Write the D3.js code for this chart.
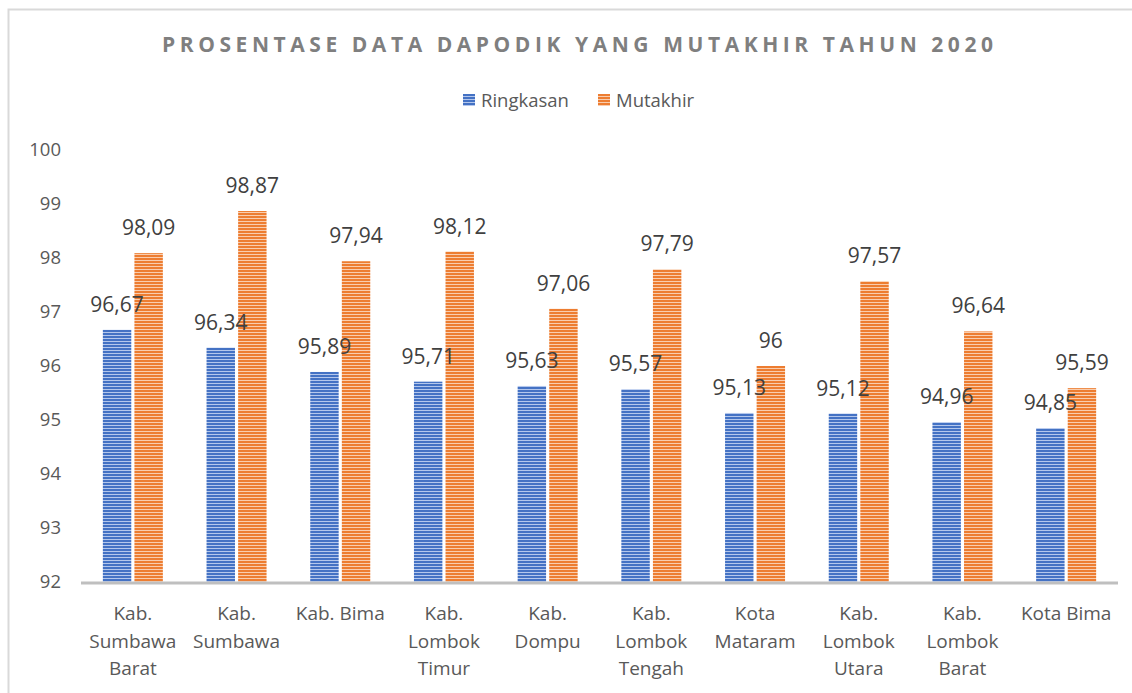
<!DOCTYPE html>
<html>
<head>
<meta charset="utf-8">
<script src="https://cdn.jsdelivr.net/npm/d3@7"></script>
<style>
  body { margin: 0; background: #fff; }
  svg { display: block; font-family: "Open Sans", "Noto Sans", sans-serif; }
</style>
</head>
<body>
<svg id="chart" width="1132" height="693"></svg>
<script>
// data
const categories = [
  'Kab. Sumbawa Barat', 'Kab. Sumbawa', 'Kab. Bima', 'Kab. Lombok Timur', 'Kab. Dompu',
  'Kab. Lombok Tengah', 'Kota Mataram', 'Kab. Lombok Utara', 'Kab. Lombok Barat', 'Kota Bima'
];
const categoryLines = [
  ['Kab.', 'Sumbawa', 'Barat'], ['Kab.', 'Sumbawa'], ['Kab. Bima'], ['Kab.', 'Lombok', 'Timur'],
  ['Kab.', 'Dompu'], ['Kab.', 'Lombok', 'Tengah'], ['Kota', 'Mataram'], ['Kab.', 'Lombok', 'Utara'],
  ['Kab.', 'Lombok', 'Barat'], ['Kota Bima']
];
const ringkasan = [96.67, 96.34, 95.89, 95.71, 95.63, 95.57, 95.13, 95.12, 94.96, 94.85];
const mutakhir  = [98.09, 98.87, 97.94, 98.12, 97.06, 97.79, 96.00, 97.57, 96.64, 95.59];
const yTicks = [92, 93, 94, 95, 96, 97, 98, 99, 100];

const series = [
  { name: 'Ringkasan', values: ringkasan, dark: '#4472c4', light: '#b4c7ec' },
  { name: 'Mutakhir', values: mutakhir, dark: '#ed7d31', light: '#f9cdae' }
];

const svg = d3.select('#chart');

// chart area border
svg.append('rect')
  .attr('x', 8.5).attr('y', 9.5)
  .attr('width', 1140).attr('height', 700)
  .attr('fill', 'none')
  .attr('stroke', '#d9d9d9')
  .attr('stroke-width', 2);

// striped fills
const defs = svg.append('defs');
series.forEach((s, i) => {
  const p = defs.append('pattern')
    .attr('id', 'stripe-' + i)
    .attr('patternUnits', 'userSpaceOnUse')
    .attr('width', 8).attr('height', 3);
  p.append('rect').attr('width', 8).attr('height', 3).attr('fill', s.light);
  p.append('rect').attr('width', 8).attr('height', 2).attr('fill', s.dark);
});

const plotLeft = 81, plotRight = 1118;
const plotTop = 150, plotBottom = 582;

const x = d3.scaleBand()
  .domain(categories)
  .range([plotLeft, plotRight]);

const xInner = d3.scaleBand()
  .domain(series.map(s => s.name))
  .range([0, 60])
  .paddingInner(0.1);

const y = d3.scaleLinear()
  .domain([92, 100])
  .range([plotBottom, plotTop]);

// title
svg.append('text')
  .attr('x', 162).attr('y', 52)
  .attr('fill', '#7f7f7f')
  .attr('font-size', 21)
  .attr('font-weight', 'bold')
  .attr('textLength', 831)
  .attr('lengthAdjust', 'spacing')
  .text('PROSENTASE DATA DAPODIK YANG MUTAKHIR TAHUN 2020');

// legend
const legendX = [463, 598];
series.forEach((s, i) => {
  const g = svg.append('g').attr('transform', `translate(${legendX[i]},94)`);
  g.append('rect').attr('width', 12).attr('height', 12).attr('fill', `url(#stripe-${i})`);
  g.append('text')
    .attr('x', 18).attr('y', 13)
    .attr('fill', '#595959')
    .attr('font-size', 18.5)
    .text(s.name);
});

// y axis labels
const yAxis = d3.axisLeft(y).tickValues(yTicks).tickSize(0).tickPadding(0);
svg.append('g')
  .attr('transform', 'translate(61,0)')
  .call(yAxis)
  .call(g => g.select('.domain').remove())
  .call(g => g.selectAll('text')
    .attr('fill', '#595959')
    .attr('font-size', 18.5)
    .attr('font-family', '"Open Sans", sans-serif'));

// bars
const groups = svg.append('g').selectAll('g')
  .data(categories)
  .join('g')
  .attr('transform', d => `translate(${x(d) + x.bandwidth() / 2 - 30},0)`);

series.forEach((s, si) => {
  groups.append('rect')
    .attr('x', xInner(s.name))
    .attr('width', xInner.bandwidth())
    .attr('y', (d, i) => y(s.values[i]))
    .attr('height', (d, i) => plotBottom - y(s.values[i]))
    .attr('fill', `url(#stripe-${si})`);
});

// value labels
series.forEach((s) => {
  groups.append('text')
    .attr('x', xInner(s.name) + xInner.bandwidth() / 2)
    .attr('y', (d, i) => y(s.values[i]) - 18)
    .attr('text-anchor', 'middle')
    .attr('fill', '#404040')
    .attr('font-size', 21)
    .text((d, i) => String(s.values[i]).replace('.', ','));
});

// x axis line
svg.append('line')
  .attr('x1', plotLeft).attr('x2', plotRight)
  .attr('y1', plotBottom + 1).attr('y2', plotBottom + 1)
  .attr('stroke', '#bfbfbf')
  .attr('stroke-width', 3);

// category labels
svg.append('g').selectAll('text')
  .data(categories)
  .join('text')
  .attr('y', 620)
  .attr('text-anchor', 'middle')
  .attr('fill', '#595959')
  .attr('font-size', 19)
  .each(function (d, i) {
    d3.select(this).selectAll('tspan')
      .data(categoryLines[i])
      .join('tspan')
      .attr('x', x(d) + x.bandwidth() / 2)
      .attr('dy', (t, j) => j === 0 ? 0 : 27.5)
      .text(t => t);
  });
</script>
</body>
</html>
